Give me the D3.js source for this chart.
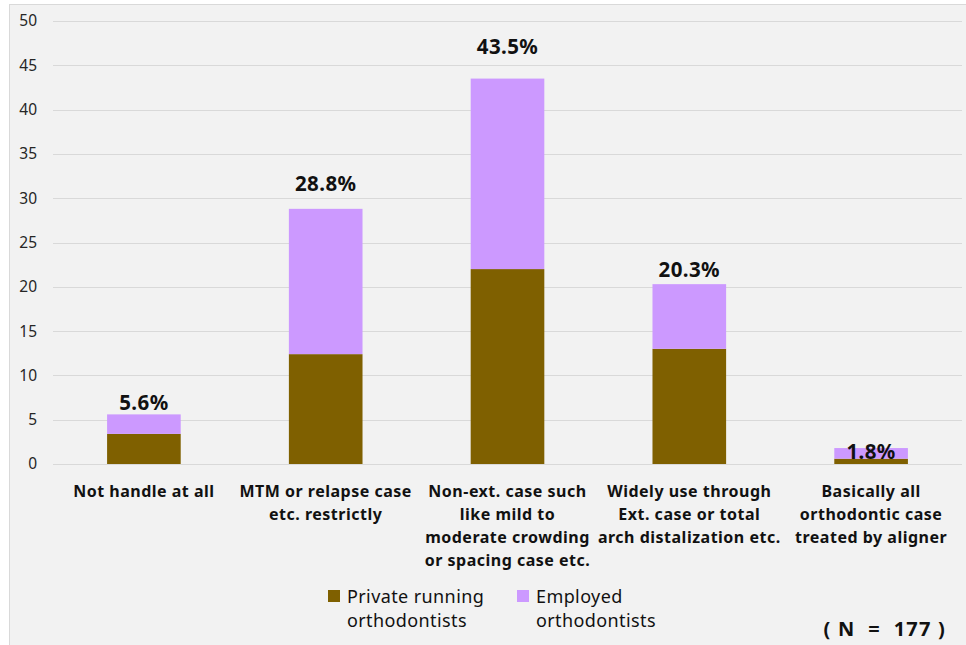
<!DOCTYPE html>
<html><head><meta charset="utf-8">
<script src="https://cdn.jsdelivr.net/npm/d3@7"></script>
<style>body{margin:0;background:#fff;} svg{display:block;}</style>
</head><body>
<svg id="c" width="966" height="645"></svg>
<script>
const categories = [
  ["Not handle at all"],
  ["MTM or relapse case", "etc. restrictly"],
  ["Non-ext. case such", "like mild to", "moderate crowding", "or spacing case etc."],
  ["Widely use through", "Ext. case or total", "arch distalization etc."],
  ["Basically all", "orthodontic case", "treated by aligner"]
];
const privateVals = [3.4, 12.4, 22.0, 13.0, 0.6];
const employedVals = [2.2, 16.4, 21.5, 7.3, 1.2];
const totalLabels = ["5.6%", "28.8%", "43.5%", "20.3%", "1.8%"];
const labelAnchor = [6.9, 31.6, 47.1, 21.9, 1.35];
const yTicks = [0, 5, 10, 15, 20, 25, 30, 35, 40, 45, 50];
const seriesNames = [["Private running", "orthodontists"], ["Employed", "orthodontists"]];
const colors = ["#7f6000", "#cc99ff"];

(function () {
const svg = d3.select("#c");
svg.append("rect").attr("x", 9.5).attr("y", 4.5).attr("width", 960).attr("height", 645)
  .attr("fill", "#f2f2f2").attr("stroke", "#d9d9d9");

const pLeft = 53, pRight = 962, pTop = 21, pBottom = 464;
const x = d3.scaleBand().domain(d3.range(categories.length)).range([pLeft, pRight]).paddingInner(0.595).paddingOuter(0.2975);
const y = d3.scaleLinear().domain([0, 50]).range([pBottom, pTop]);

const fam = "'Noto Sans', 'Open Sans', sans-serif";

svg.append("g").selectAll("line").data(yTicks).join("line")
  .attr("x1", pLeft).attr("x2", pRight)
  .attr("y1", d => Math.round(y(d)) + 0.5).attr("y2", d => Math.round(y(d)) + 0.5)
  .attr("stroke", "#d9d9d9").attr("stroke-width", 1);

const yAxis = d3.axisLeft(y).tickValues(yTicks).tickSize(0).tickPadding(0);
const ga = svg.append("g").attr("transform", `translate(${37},0)`).call(yAxis);
ga.select(".domain").remove();
ga.selectAll("text").attr("font-family", fam).attr("font-size", 15.5).attr("fill", "#262626");

const stackData = privateVals.map((p, i) => ({i, p, e: employedVals[i]}));
const stack = d3.stack().keys(["p", "e"])(stackData);

svg.append("g").selectAll("g").data(stack).join("g")
  .attr("fill", (d, k) => colors[k])
  .selectAll("rect").data(d => d).join("rect")
  .attr("x", d => x(d.data.i))
  .attr("width", x.bandwidth())
  .attr("y", d => y(d[1]))
  .attr("height", d => y(d[0]) - y(d[1]));

svg.append("g").selectAll("text").data(totalLabels).join("text")
  .attr("x", (d, i) => x(i) + x.bandwidth() / 2)
  .attr("y", (d, i) => y(labelAnchor[i]))
  .attr("dy", "0.35em")
  .attr("text-anchor", "middle")
  .attr("font-family", fam).attr("font-weight", "bold").attr("font-size", 20.5)
  .attr("letter-spacing", 0.4)
  .attr("fill", "#111")
  .text(d => d);

const cg = svg.append("g");
categories.forEach((lines, i) => {
  const cx = x(i) + x.bandwidth() / 2;
  const t = cg.append("text")
    .attr("x", cx).attr("y", 497)
    .attr("text-anchor", "middle")
    .attr("font-family", fam).attr("font-weight", "bold").attr("font-size", 16)
    .attr("letter-spacing", 0.5)
    .attr("fill", "#111");
  lines.forEach((l, j) => t.append("tspan").attr("x", cx).attr("dy", j === 0 ? 0 : 23).text(l));
});

const legX = [328, 517];
seriesNames.forEach((nm, k) => {
  svg.append("rect").attr("x", legX[k]).attr("y", 590).attr("width", 12).attr("height", 12).attr("fill", colors[k]);
  const t = svg.append("text").attr("x", legX[k] + 19).attr("y", 603)
    .attr("font-family", fam).attr("font-size", 18).attr("letter-spacing", 0.4).attr("fill", "#111");
  nm.forEach((l, j) => t.append("tspan").attr("x", legX[k] + 19).attr("dy", j === 0 ? 0 : 24).text(l));
});

svg.append("text").attr("x", 946).attr("y", 636).attr("text-anchor", "end")
  .attr("font-family", fam).attr("font-weight", "bold").attr("font-size", 20)
  .attr("letter-spacing", 1.2)
  .attr("fill", "#111").attr("xml:space", "preserve").text("( N  =  177 )");
})();
</script>
</body></html>
